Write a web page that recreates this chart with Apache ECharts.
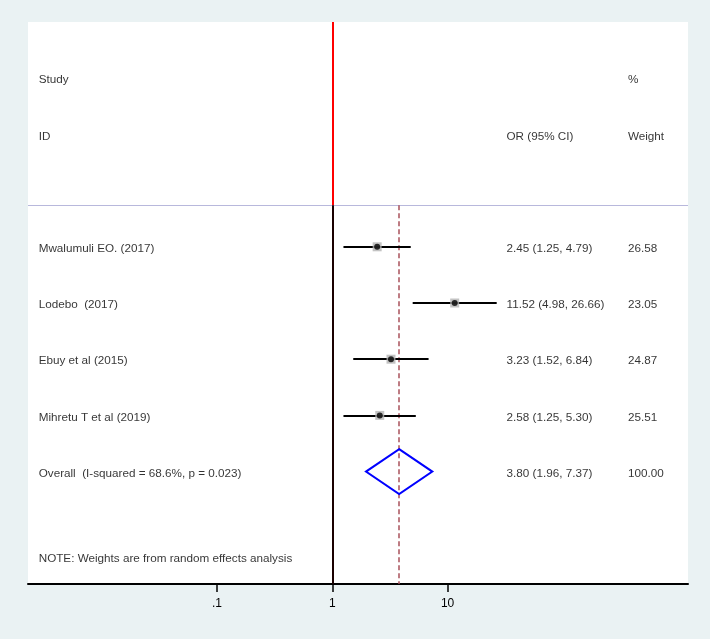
<!DOCTYPE html>
<html>
<head>
<meta charset="utf-8">
<script src="https://cdn.jsdelivr.net/npm/echarts@6/dist/echarts.min.js"></script>
<style>
  html, body { margin: 0; padding: 0; background: #eaf2f3; }
  #forest { width: 710px; height: 639px; }
</style>
</head>
<body>
<div id="forest"></div>
<script>
// study data
var studies = ['Mwalumuli EO. (2017)', 'Lodebo  (2017)', 'Ebuy et al (2015)', 'Mihretu T et al (2019)'];
var orEst = [2.45, 11.52, 3.23, 2.58];
var ciLow = [1.25, 4.98, 1.52, 1.25];
var ciHigh = [4.79, 26.66, 6.84, 5.30];
var weights = [26.58, 23.05, 24.87, 25.51];

// pooled estimate
var overallLabel = 'Overall  (I-squared = 68.6%, p = 0.023)';
var overallEst = [3.80, 1.96, 7.37];
var overallWeight = 100.00;

var noteText = 'NOTE: Weights are from random effects analysis';
var tickValues = [0.1, 1, 10];
var tickLabels = ['.1', '1', '10'];

var font = 'Liberation Sans, Arial, sans-serif';
var sepRow = 3.26, firstRow = 4, overallRow = 8, noteRow = 9.52;
var colName = 1.62, colOR = 72.5, colW = 90.9;
var xMin = Math.pow(10, -2.639), xMax = Math.pow(10, 3.085);

function fmtCI(e, l, h) {
    return e.toFixed(2) + ' (' + l.toFixed(2) + ', ' + h.toFixed(2) + ')';
}

var textData = [
    [colName, 1, 'Study'], [colW, 1, '%'],
    [colName, 2, 'ID'], [colOR, 2, 'OR (95% CI)'], [colW, 2, 'Weight']
];
studies.forEach(function (s, i) {
    var r = firstRow + i;
    textData.push([colName, r, s]);
    textData.push([colOR, r, fmtCI(orEst[i], ciLow[i], ciHigh[i])]);
    textData.push([colW, r, weights[i].toFixed(2)]);
});
textData.push([colName, overallRow, overallLabel]);
textData.push([colOR, overallRow, fmtCI(overallEst[0], overallEst[1], overallEst[2])]);
textData.push([colW, overallRow, overallWeight.toFixed(2)]);
textData.push([colName, noteRow, noteText]);

var ciLines = studies.map(function (s, i) {
    return { coords: [[ciLow[i], firstRow + i], [ciHigh[i], firstRow + i]] };
});
var points = orEst.map(function (v, i) { return [v, firstRow + i]; });

var chart = echarts.init(document.getElementById('forest'));
chart.setOption({
    backgroundColor: '#eaf2f3',
    animation: false,
    grid: { left: 28, right: 22, top: 22, bottom: 55, show: true, backgroundColor: '#ffffff', borderWidth: 0 },
    xAxis: [{
        type: 'log',
        min: xMin,
        max: xMax,
        axisLine: { show: true, onZero: false, lineStyle: { color: '#000', width: 2 } },
        axisTick: { show: true, length: 8, lineStyle: { color: '#000', width: 1.5 }, customValues: tickValues },
        axisLabel: {
            color: '#000', fontFamily: font, fontSize: 12, margin: 14,
            customValues: tickValues,
            formatter: function (v) {
                var k = tickValues.findIndex(function (t) { return Math.abs(t - v) < 1e-9; });
                return k >= 0 ? tickLabels[k] : '';
            }
        },
        splitLine: { show: false }
    }, {
        type: 'value', min: 0, max: 100, show: false, position: 'top'
    }],
    yAxis: { type: 'value', min: 0, max: 10, inverse: true, show: false },
    series: [
        {
            // reference line at OR = 1, header part
            type: 'lines', coordinateSystem: 'cartesian2d', silent: true, z: 3,
            lineStyle: { color: '#ff0000', width: 2, opacity: 1 },
            data: [{ coords: [[1, 0], [1, sepRow]] }]
        },
        {
            type: 'lines', coordinateSystem: 'cartesian2d', silent: true, z: 3,
            lineStyle: { color: '#1a0000', width: 2, opacity: 1 },
            data: [{ coords: [[1, sepRow], [1, 10]] }]
        },
        {
            // separator under the headings
            type: 'lines', coordinateSystem: 'cartesian2d', silent: true, z: 2,
            lineStyle: { color: '#b8b8dc', width: 1.2, opacity: 1 },
            data: [{ coords: [[xMin, sepRow], [xMax, sepRow]] }]
        },
        {
            // pooled estimate line
            type: 'lines', coordinateSystem: 'cartesian2d', silent: true, z: 2,
            lineStyle: { color: '#a8505a', width: 1.5, type: [5, 3], opacity: 1 },
            data: [{ coords: [[overallEst[0], sepRow], [overallEst[0], 10]] }]
        },
        {
            type: 'lines', coordinateSystem: 'cartesian2d', silent: true, z: 4,
            lineStyle: { color: '#000', width: 2, opacity: 1 },
            data: ciLines
        },
        {
            type: 'scatter', symbol: 'rect', symbolSize: 9, z: 5, silent: true,
            itemStyle: { color: '#b4b4b4' },
            data: points
        },
        {
            type: 'scatter', symbol: 'circle', symbolSize: 6, z: 6, silent: true,
            itemStyle: { color: '#000' },
            data: points
        },
        {
            type: 'custom', z: 5, silent: true,
            data: [[overallEst[0], overallEst[1], overallEst[2], overallRow]],
            encode: { x: [0, 1, 2], y: 3 },
            renderItem: function (params, api) {
                var y = api.value(3);
                var top = api.coord([api.value(0), y - 0.4]);
                var bot = api.coord([api.value(0), y + 0.4]);
                var left = api.coord([api.value(1), y]);
                var right = api.coord([api.value(2), y]);
                return {
                    type: 'polygon',
                    shape: { points: [top, right, bot, left] },
                    style: { fill: 'none', stroke: '#0000ff', lineWidth: 2 }
                };
            }
        },
        {
            type: 'scatter', xAxisIndex: 1, symbolSize: 0, z: 7, silent: true,
            data: textData,
            label: {
                show: true, position: 'right', distance: 0, offset: [0, 2],
                color: '#000', fontFamily: font, fontSize: 11.7,
                formatter: function (p) { return p.value[2]; }
            }
        }
    ]
});
</script>
</body>
</html>
